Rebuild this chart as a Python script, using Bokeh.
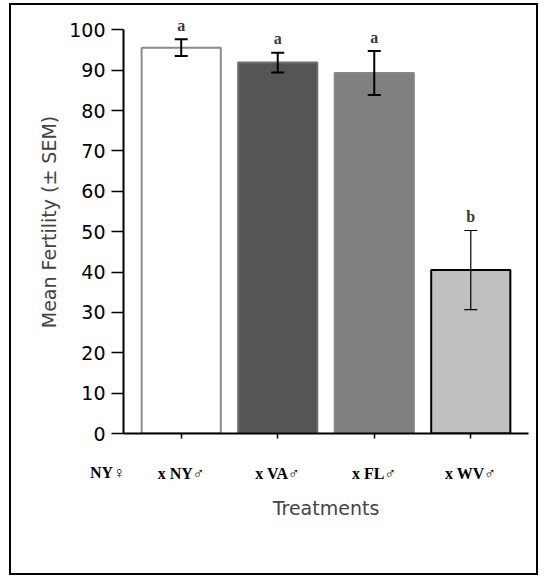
from bokeh.plotting import figure
from bokeh.models import ColumnDataSource, FactorRange, Range1d, FixedTicker, Label
from bokeh.core.properties import value
from bokeh.embed import file_html
from bokeh.resources import INLINE

# ---- data ----
treatments = ["x NY\u2642", "x VA\u2642", "x FL\u2642", "x WV\u2642"]
female_label = "NY\u2640"
mean_fertility = [95.6, 91.9, 89.3, 40.5]
sem = [2.1, 2.45, 5.45, 9.8]
letters = ["a", "a", "a", "b"]
y_ticks = [0, 10, 20, 30, 40, 50, 60, 70, 80, 90, 100]

# ---- styles ----
fills = ["#ffffff", "#555555", "#808080", "#c0c0c0"]
outlines = ["#8c8c8c", "#6e6e6e", "#858585", "#000000"]
err_w = [2, 2, 2, 1.2]
serif = "'Liberation Serif', 'DejaVu Sans'"

upper = [m + s for m, s in zip(mean_fertility, sem)]
lower = [m - s for m, s in zip(mean_fertility, sem)]

src = ColumnDataSource(dict(
    cat=treatments, mean=mean_fertility, upper=upper, lower=lower,
    letter=letters, fill=fills, outline=outlines, ew=err_w,
))

p = figure(
    width=529, height=572,
    x_range=FactorRange(factors=treatments, range_padding=0.049),
    y_range=Range1d(0, 104.8),
    output_backend="svg", toolbar_location=None,
    min_border_left=112, min_border_right=12,
    min_border_top=5, min_border_bottom=144,
)
p.styles = {"border": "2px solid black", "margin-left": "9px", "margin-top": "3px"}
p.outline_line_color = None
p.xgrid.visible = False
p.ygrid.visible = False

p.vbar(x="cat", top="mean", bottom=0, width=0.82, source=src,
       fill_color="fill", line_color="outline", line_width=2)

p.segment(x0="cat", y0="lower", x1="cat", y1="upper", source=src,
          line_color="black", line_width="ew")
p.scatter(x="cat", y="upper", marker="dash", size=13, source=src,
          line_color="black", line_width="ew")
p.scatter(x="cat", y="lower", marker="dash", size=13, source=src,
          line_color="black", line_width="ew")

p.text(x="cat", y="upper", text="letter", source=src, y_offset=-14,
       text_align="center", text_baseline="middle",
       text_font=value("Liberation Serif"), text_font_style="bold",
       text_font_size="16px", text_color="#3a3a3a")

# y axis
ya = p.yaxis[0]
ya.ticker = FixedTicker(ticks=y_ticks)
ya.bounds = (0, 100)
ya.minor_tick_line_color = None
ya.major_tick_out = 12
ya.major_tick_in = 0
ya.major_tick_line_width = 1.5
ya.axis_line_width = 2
ya.major_label_text_font = "DejaVu Sans"
ya.major_label_text_font_size = "19px"
ya.major_label_text_color = "black"
ya.major_label_standoff = 6
ya.axis_label = "Mean Fertility (\u00b1 SEM)"
ya.axis_label_text_font = "DejaVu Sans"
ya.axis_label_text_font_size = "19px"
ya.axis_label_text_font_style = "normal"
ya.axis_label_standoff = 6

# x axis
xa = p.xaxis[0]
xa.major_tick_out = 5
xa.major_tick_in = 0
xa.major_tick_line_width = 1.5
xa.axis_line_width = 2
xa.major_label_text_font = serif
xa.major_label_text_font_style = "bold"
xa.major_label_text_font_size = "16px"
xa.major_label_text_color = "black"
xa.major_label_standoff = 26
xa.axis_label = "Treatments"
xa.axis_label_text_font = "DejaVu Sans"
xa.axis_label_text_font_size = "19px"
xa.axis_label_text_font_style = "normal"
xa.axis_label_standoff = 12

# female parent label, left of the first treatment (in the side panel so it is not clipped)
p.add_layout(Label(x=-0.264, y=-9.7, text=female_label,
                   text_align="center", text_baseline="middle",
                   text_font=serif, text_font_style="bold",
                   text_font_size="16px", text_color="black"), "below")

open("out.html", "w").write(file_html(p, INLINE))
